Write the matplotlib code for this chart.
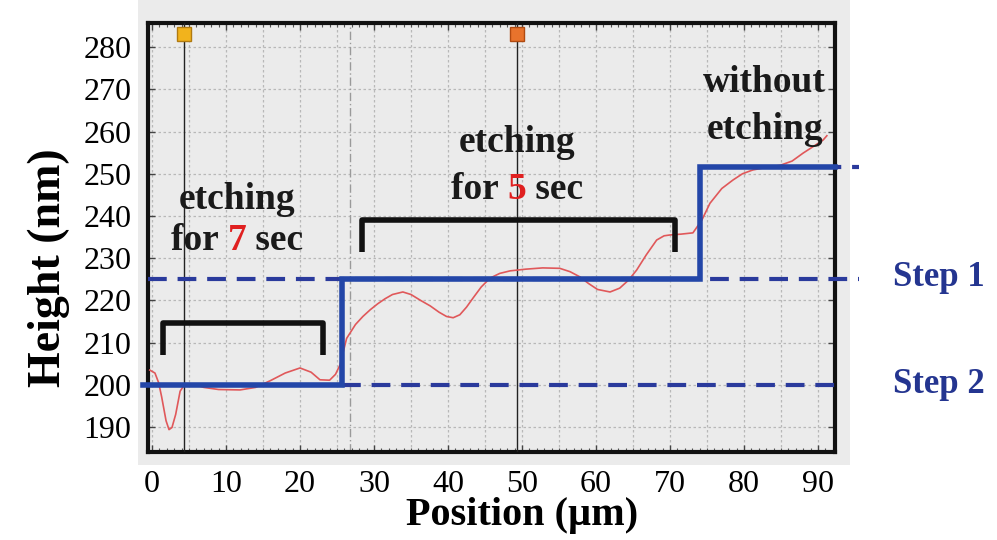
import matplotlib
matplotlib.use("Agg")
import matplotlib.pyplot as plt
from matplotlib.patches import Rectangle
import numpy as np

pos = [-0.3, 0.4, 0.9, 1.3, 1.9, 2.3, 2.7, 3.2, 3.8, 4.5, 5.5, 7.0, 9.0, 11.9,
       14.0, 16.0, 18.0, 20.0, 21.5, 22.7, 24.0, 24.8, 25.4, 26.3, 27.5, 28.5,
       29.5, 30.5, 31.5, 32.5, 33.9, 35.0, 36.3, 37.6, 38.8, 39.8, 40.7, 41.6,
       42.5, 43.4, 44.5, 45.7, 47.0, 48.4, 50.5, 52.8, 55.1, 56.5, 57.8, 59.0,
       60.2, 61.9, 63.2, 64.4, 65.5, 66.8, 68.2, 69.2, 70.0, 71.5, 73.1, 74.3,
       75.4, 77.0, 78.5, 79.8, 81.2, 83.0, 84.9, 86.5, 88.0, 89.5, 90.7, 91.2]
height = [203.5, 202.8, 200.5, 197.2, 191.5, 189.4, 189.9, 193.0, 198.5, 200.3,
          200.2, 199.4, 198.9, 198.8, 199.4, 201.0, 202.8, 204.0, 203.0, 201.2,
          201.1, 202.5, 204.7, 211.0, 214.3, 216.2, 217.8, 219.2, 220.4, 221.4,
          222.0, 221.4, 220.0, 218.7, 217.2, 216.2, 215.9, 216.6, 218.4, 220.6,
          223.2, 225.3, 226.4, 227.0, 227.4, 227.7, 227.6, 226.8, 225.6, 224.0,
          222.6, 222.0, 222.9, 224.8, 227.2, 230.8, 234.3, 235.3, 235.5, 235.7,
          236.0, 239.0, 243.0, 246.5, 248.5, 250.0, 250.9, 251.5, 252.0, 253.0,
          254.9, 256.6, 258.0, 259.0]

# fitted step levels
step_x = [-1.2, 25.7, 25.7, 74.0, 74.0, 92.3]
step_y = [200, 200, 225, 225, 251.5, 251.5]
step1_level = 225
step2_level = 200
top_level = 251.5

# brackets (x0, x1, y_top, y_leg)
brackets = [(1.5, 23.1, 214.7, 207.1), (28.4, 70.7, 239.0, 231.5)]
cursors = [(4.3, "#f2b31c", "#b07a10"), (49.3, "#e8732c", "#b04a10")]
marker_line_x = 26.8

xticks = list(range(0, 91, 10))
yticks = list(range(190, 281, 10))

plt.rcParams["font.family"] = ["Liberation Serif", "DejaVu Serif"]

fig = plt.figure(figsize=(9.97, 5.40), dpi=100)
fig.patch.set_facecolor("white")
fig.add_artist(Rectangle((138 / 997, 1 - 465 / 540), (850 - 138) / 997, 465 / 540,
                         transform=fig.transFigure, facecolor="#ebebeb",
                         edgecolor="none", zorder=-5))

ax = fig.add_axes([148 / 997, 1 - 452 / 540, (835 - 148) / 997, (452 - 23) / 540])
ax.set_zorder(2)
ax.set_facecolor("#ebebeb")
ax.set_xlim(-0.54, 92.3)
ax.set_ylim(184.1, 285.7)

ax.set_xticks(xticks)
ax.set_yticks(yticks)
ax.set_xticks(np.arange(0, 93, 1), minor=True)
ax.tick_params(axis="both", which="major", direction="in", length=5, width=1,
               labelsize=23, top=True, right=True, color="#444444")
ax.tick_params(axis="x", which="minor", direction="in", length=3, width=0.8,
               top=True, color="#555555")
ax.tick_params(axis="x", pad=13)
ax.tick_params(axis="y", pad=12)
grid_style = dict(color="#b8b8b8", linestyle=(0, (2, 2)), lw=0.9)
ax.grid(True, which="major", **grid_style)
ax.vlines(np.arange(5, 91, 10), 184.1, 285.7, zorder=0.5, **grid_style)
for s in ax.spines.values():
    s.set_linewidth(3)
    s.set_color("#111111")

ax.set_xlabel("Position (\u00b5m)", fontsize=29, fontweight="bold")
ax.set_ylabel("Height (nm)", fontsize=33, fontweight="bold")
ax.xaxis.set_label_coords(0.545, -0.105)
ax.yaxis.set_label_coords(-0.113, 0.43)

# cursors
for cx, fc, ec in cursors:
    ax.axvline(cx, color="#222222", lw=1.0, zorder=3)
    ax.plot(cx, 283.2, marker="s", ms=10, mfc=fc, mec=ec, mew=1, zorder=6, clip_on=False)
ax.axvline(marker_line_x, color="#9a9a9a", lw=1.0, linestyle=(0, (6, 2, 1, 2)), zorder=2)

# profile
ax.plot(pos, height, color="#e0585a", lw=1.2, zorder=4, clip_on=False)

# dashed reference levels
dash = (0, (4.5, 2.6))
ax.plot([-0.54, 95.5], [step1_level] * 2, color="#2a3a9c", lw=3, linestyle=dash,
        clip_on=False, zorder=4)
ax.plot([25.7, 92.8], [step2_level] * 2, color="#2a3a9c", lw=3, linestyle=dash,
        clip_on=False, zorder=4)
ax.plot([92.3, 95.5], [top_level] * 2, color="#2a3a9c", lw=3, linestyle=(3, (4.5, 2.6)),
        clip_on=False, zorder=4)

# step fit
ax.plot(step_x, step_y, color="#2346a8", lw=4, solid_joinstyle="miter",
        clip_on=False, zorder=5)

# brackets
for x0, x1, yt, yl in brackets:
    ax.plot([x0, x0, x1, x1], [yl, yt, yt, yl], color="#111111", lw=4,
            solid_joinstyle="round", solid_capstyle="butt", zorder=6)

# annotations
tk = dict(fontsize=27, fontweight="bold", ha="center", va="center", color="#1a1a1a", zorder=7)
ax.text(11.5, 243.8, "etching", **tk)
ax.text(49.3, 257.5, "etching", **tk)
ax.text(82.8, 271.7, "without", **tk)
ax.text(82.8, 260.4, "etching", **tk)

def two_tone(xc, yc, pre, num, post):
    t1 = ax.text(xc, yc, pre + num + post, **tk)
    t1.set_alpha(0)
    fig.canvas.draw()
    r = fig.canvas.get_renderer()
    bb = t1.get_window_extent(r)
    inv = ax.transData.inverted()
    x_left = inv.transform((bb.x0, 0))[0]
    kw = dict(tk)
    kw["ha"] = "left"
    a = ax.text(x_left, yc, pre, **kw)
    bb_a = a.get_window_extent(r)
    b = ax.text(inv.transform((bb_a.x1, 0))[0], yc, num, **dict(kw, color="#e02020"))
    bb_b = b.get_window_extent(r)
    ax.text(inv.transform((bb_b.x1, 0))[0], yc, post, **kw)

two_tone(11.5, 234.3, "for ", "7", " sec")
two_tone(49.3, 246.2, "for ", "5", " sec")

sk = dict(fontsize=25, fontweight="bold", ha="left", va="center", color="#243590", clip_on=False)
ax.text(100.1, 225.5, "Step 1", **sk)
ax.text(100.1, 200.0, "Step 2", **sk)

fig.savefig("out.png", dpi=100)
